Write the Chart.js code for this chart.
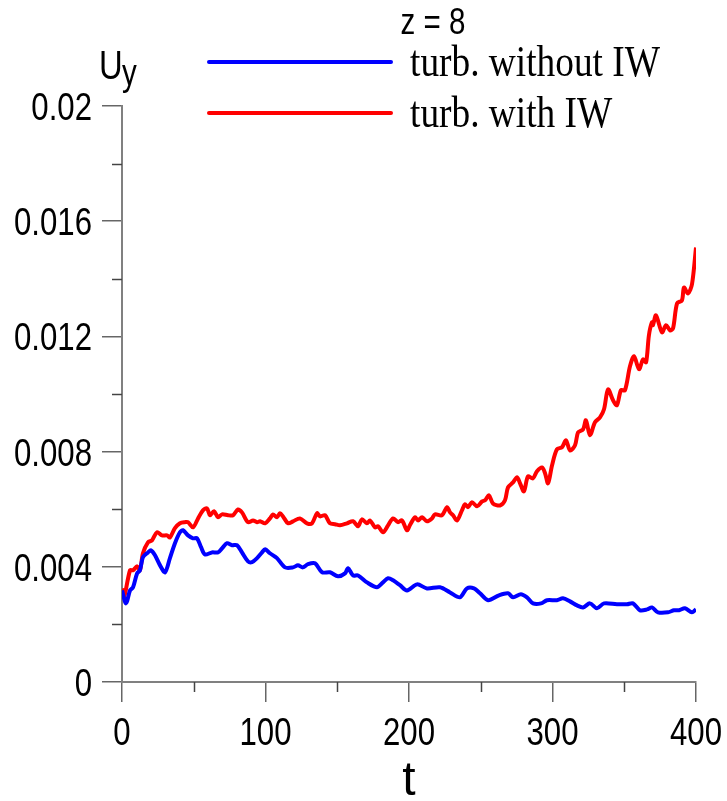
<!DOCTYPE html>
<html>
<head>
<meta charset="utf-8">
<script src="https://cdn.jsdelivr.net/npm/chart.js@4.4.1/dist/chart.umd.min.js"></script>
<style>
  html, body { margin: 0; padding: 0; background: #fff; }
  canvas { display: block; }
</style>
</head>
<body>
<canvas id="uyChart" width="727" height="801"></canvas>
<script>
// values, U_y in units of 1e-3
const tBlue = [0, 2.8, 5.6, 7.7, 10.5, 12.5, 14.6, 18.1, 20.2, 23.0, 26.5, 30.0, 33.4, 36.9, 40.4, 42.5, 46.0, 49.5, 52.3, 55.1,
  57.8, 62.7, 66.9, 69.7, 73.2, 76.7, 80.1, 83.6, 87.8, 90.6, 94.1, 97.6, 99.7, 103.1, 108.0, 113.6, 119.2, 122.6, 126.1, 129.6,
  134.5, 139.4, 144.9, 150.5, 155.4, 157.5, 161.0, 164.5, 170.7, 177.7, 181.9, 185.4, 188.9, 193.7, 198.6, 205.6, 212.5, 221.6, 228.6, 235.5,
  240.4, 245.3, 249.5, 255.1, 262.7, 269.0, 272.5, 278.0, 282.2, 286.4, 292.0, 296.2, 303.1, 307.3, 312.2, 317.1, 321.3, 326.1, 331.0, 335.9,
  344.9, 351.9, 356.1, 361.0, 365.9, 369.3, 373.5, 380.5, 384.7, 388.2, 392.3, 397.2, 400];
const uBlue = [3.18, 2.73, 3.18, 3.29, 3.77, 3.88, 4.33, 4.50, 4.57, 4.40, 4.05, 3.81, 4.30, 4.82, 5.20, 5.27, 5.09, 4.99, 4.99, 4.68,
  4.43, 4.50, 4.50, 4.64, 4.82, 4.75, 4.75, 4.50, 4.19, 4.16, 4.30, 4.50, 4.61, 4.47, 4.30, 3.98, 3.98, 4.05, 3.98, 4.09,
  4.12, 3.81, 3.81, 3.67, 3.77, 3.95, 3.70, 3.70, 3.46, 3.29, 3.46, 3.60, 3.53, 3.36, 3.18, 3.39, 3.25, 3.29, 3.11, 2.94,
  3.25, 3.25, 3.08, 2.84, 3.01, 3.08, 2.94, 3.05, 2.94, 2.73, 2.73, 2.84, 2.84, 2.91, 2.80, 2.66, 2.59, 2.73, 2.56, 2.73,
  2.70, 2.70, 2.73, 2.49, 2.52, 2.59, 2.42, 2.42, 2.49, 2.49, 2.56, 2.42, 2.52];

const tRed = [0, 1.4, 5.6, 7.7, 10.5, 12.5, 14.6, 18.1, 20.9, 24.4, 27.9, 31.4, 33.4, 36.9, 40.4, 43.9, 46.0, 49.5, 53.0, 56.4,
  59.2, 61.3, 64.1, 66.9, 69.7, 73.9, 77.4, 80.8, 83.6, 87.8, 91.3, 94.1, 96.2, 99.7, 103.1, 105.2, 108.0, 110.1, 112.2, 115.7,
  119.2, 124.0, 128.9, 132.4, 135.9, 138.0, 141.5, 144.9, 148.4, 151.9, 156.8, 161.0, 164.5, 167.2, 170.7, 172.8, 176.3, 178.4, 181.9, 185.4,
  188.9, 192.3, 195.1, 198.6, 200.7, 204.2, 206.3, 209.1, 212.5, 216.0, 218.1, 223.0, 226.5, 228.6, 230.7, 233.4, 236.9, 239.0, 241.1, 243.9,
  247.4, 250.9, 253.0, 255.7, 258.5, 263.4, 266.9, 269.0, 272.5, 275.3, 277.4, 280.1, 282.9, 286.4, 289.2, 292.7, 294.8, 296.9, 299.7, 303.1,
  306.6, 309.4, 312.2, 315.7, 317.8, 321.3, 323.3, 326.1, 329.6, 333.1, 335.9, 338.7, 342.2, 344.9, 347.7, 350.5, 354.0, 356.8, 360.3, 363.1,
  365.2, 367.2, 369.3, 370.0, 372.1, 376.3, 379.1, 381.9, 384.0, 386.8, 390.2, 391.6, 394.4, 397.2, 400];
const uRed = [3.25, 2.94, 3.88, 3.88, 4.02, 3.88, 4.47, 4.85, 4.92, 5.20, 5.09, 5.09, 5.02, 5.34, 5.51, 5.55, 5.55, 5.37, 5.68, 5.96,
  6.03, 5.79, 5.93, 5.72, 5.82, 5.79, 5.79, 5.99, 5.89, 5.55, 5.61, 5.55, 5.58, 5.51, 5.68, 5.82, 5.72, 5.86, 5.75, 5.51,
  5.58, 5.68, 5.51, 5.51, 5.86, 5.75, 5.79, 5.51, 5.48, 5.44, 5.51, 5.58, 5.41, 5.65, 5.51, 5.61, 5.37, 5.41, 5.20, 5.44,
  5.68, 5.55, 5.61, 5.27, 5.45, 5.72, 5.61, 5.72, 5.58, 5.68, 5.82, 5.79, 6.07, 5.89, 5.79, 5.61, 5.96, 6.17, 6.07, 6.24,
  6.10, 6.27, 6.31, 6.48, 6.20, 6.13, 6.31, 6.76, 6.93, 7.11, 6.90, 6.62, 7.14, 7.07, 7.32, 7.45, 7.25, 6.90, 7.53, 8.08,
  8.15, 8.39, 8.04, 8.22, 8.67, 8.77, 9.09, 8.57, 9.02, 9.19, 9.47, 10.16, 9.78, 9.61, 10.13, 10.13, 10.96, 11.31, 10.86, 11.20,
  11.10, 12.04, 12.49, 12.39, 12.73, 12.14, 12.39, 12.21, 12.28, 13.15, 13.25, 13.70, 13.49, 13.81, 15.09];

const seriesLabels = ["turb. without IW", "turb. with IW"];
const seriesColors = ["#0000ff", "#ff0000"];
const xMajorTicks = [0, 100, 200, 300, 400];
const xMinorTicks = [50, 150, 250, 350];
const yMinorTicks = [0.002, 0.006, 0.010, 0.014, 0.018];

const SANS = "'Liberation Sans', Arial, sans-serif";
const SERIF = "'Liberation Serif', 'Times New Roman', serif";

const toPoints = (ts, us) => ts.map((t, i) => ({ x: t, y: us[i] / 1000 }));

// draw text squeezed horizontally (the original uses a narrow face)
function narrowText(ctx, text, x, y, font, align, squeeze) {
  ctx.save();
  ctx.font = font;
  const w = ctx.measureText(text).width * squeeze;
  let x0 = x;
  if (align === "center") x0 = x - w / 2;
  else if (align === "right") x0 = x - w;
  ctx.translate(x0, y);
  ctx.scale(squeeze, 1);
  ctx.textAlign = "left";
  ctx.fillText(text, 0, 0);
  ctx.restore();
}

// tick labels, texts, legend and minor ticks drawn on top of the chart
const decorPlugin = {
  id: "decor",
  afterDraw(chart) {
    const ctx = chart.ctx;
    const xs = chart.scales.x, ys = chart.scales.y;
    ctx.save();

    // minor ticks
    ctx.strokeStyle = "#444";
    ctx.lineWidth = 1.5;
    xMinorTicks.forEach(v => {
      const px = Math.round(xs.getPixelForValue(v)) + 0.5;
      ctx.beginPath();
      ctx.moveTo(px, ys.bottom);
      ctx.lineTo(px, ys.bottom + 10);
      ctx.stroke();
    });
    yMinorTicks.forEach(v => {
      const py = Math.round(ys.getPixelForValue(v)) + 0.5;
      ctx.beginPath();
      ctx.moveTo(xs.left, py);
      ctx.lineTo(xs.left - 10, py);
      ctx.stroke();
    });

    ctx.fillStyle = "#000";
    ctx.textBaseline = "alphabetic";

    // tick labels
    const tickFont = "38px " + SANS;
    xs.ticks.forEach(tk => {
      narrowText(ctx, String(tk.value), xs.getPixelForValue(tk.value), ys.bottom + 63, tickFont, "center", 0.82);
    });
    ys.ticks.forEach(tk => {
      narrowText(ctx, String(+tk.value.toFixed(3)), xs.left - 30, ys.getPixelForValue(tk.value) + 14, tickFont, "right", 0.82);
    });

    // title
    narrowText(ctx, "z = 8", 433, 34, "36px " + SANS, "center", 0.82);

    // y axis label U_y
    narrowText(ctx, "U", 99, 79, "40px " + SANS, "left", 0.82);
    narrowText(ctx, "y", 122, 85, "36px " + SANS, "left", 0.82);

    // x axis label
    narrowText(ctx, "t", (xs.left + xs.right) / 2, 795, "48px " + SANS, "center", 1);

    // legend
    const rows = [62, 113];
    ctx.lineWidth = 4;
    ctx.lineCap = "round";
    rows.forEach((y, i) => {
      ctx.strokeStyle = seriesColors[i];
      ctx.beginPath();
      ctx.moveTo(209, y);
      ctx.lineTo(391, y);
      ctx.stroke();
      narrowText(ctx, seriesLabels[i], 410, y + 14, "45px " + SERIF, "left", 0.83);
    });

    ctx.restore();
  }
};

const chart = new Chart(document.getElementById("uyChart").getContext("2d"), {
  type: "line",
  data: {
    datasets: [
      {
        label: seriesLabels[0],
        data: toPoints(tBlue, uBlue),
        borderColor: seriesColors[0],
        borderWidth: 4,
        pointRadius: 0,
        tension: 0.3,
        fill: false
      },
      {
        label: seriesLabels[1],
        data: toPoints(tRed, uRed),
        borderColor: seriesColors[1],
        borderWidth: 4,
        pointRadius: 0,
        tension: 0.3,
        fill: false
      }
    ]
  },
  options: {
    responsive: false,
    animation: false,
    layout: { padding: { left: 0, right: 31, top: 106, bottom: 0 } },
    plugins: {
      legend: { display: false },
      tooltip: { enabled: false }
    },
    scales: {
      x: {
        type: "linear",
        min: 0,
        max: 400,
        afterBuildTicks: scale => { scale.ticks = xMajorTicks.map(v => ({ value: v })); },
        afterFit: scale => { scale.height = 119; },
        ticks: { display: false },
        grid: { drawOnChartArea: false, tickLength: 20, color: "#666", lineWidth: 1.5 },
        border: { display: true, color: "#808080", width: 2 }
      },
      y: {
        min: 0,
        max: 0.02,
        afterFit: scale => { scale.width = 122; },
        ticks: { display: false, stepSize: 0.004 },
        grid: { drawOnChartArea: false, tickLength: 20, color: "#666", lineWidth: 1.5 },
        border: { display: true, color: "#808080", width: 2 }
      }
    }
  },
  plugins: [decorPlugin]
});
</script>
</body>
</html>
